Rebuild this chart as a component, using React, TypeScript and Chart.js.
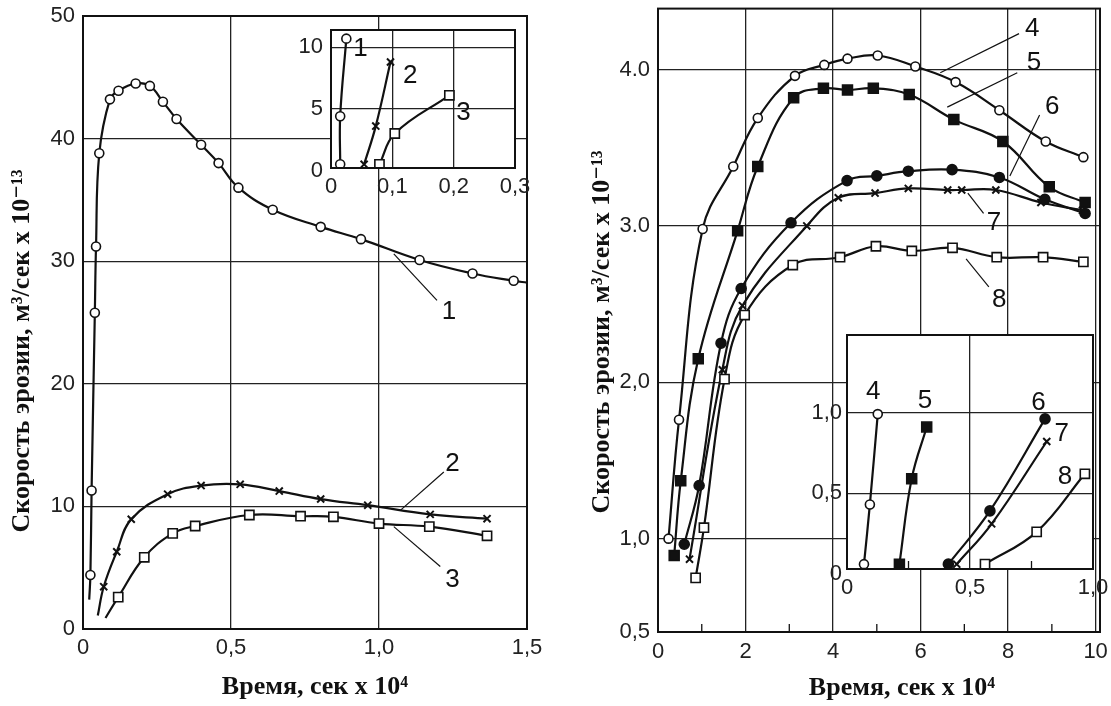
import React, { useEffect, useRef } from 'react';
import { Chart, registerables, LinearScale } from 'chart.js';

Chart.register(...registerables);

// A linear scale whose part below 1.0 is stretched (the reference's broken axis)
class BrokenLinearScale extends LinearScale {
  static id = 'brokenLinear';
  static defaults = {};
  _tf(v: number) { const k = (this.options as any).stretchBelow || 1; return v >= 1 ? v : 1 - (1 - v) * k; }
  _itf(t: number) { const k = (this.options as any).stretchBelow || 1; return t >= 1 ? t : 1 - (1 - t) / k; }
  getPixelForValue(value: number) {
    if (value === null || value === undefined || Number.isNaN(value)) return NaN;
    const a = this._tf(this.min), b = this._tf(this.max);
    return this.getPixelForDecimal((this._tf(value) - a) / (b - a));
  }
  getValueForPixel(pixel: number) {
    const a = this._tf(this.min), b = this._tf(this.max);
    return this._itf(a + this.getDecimalForPixel(pixel) * (b - a));
  }
}
Chart.register(BrokenLinearScale as any);

// ---------------- DATA ----------------
// Left panel (curves 1-3), time x 10^4 s, erosion rate x 10^-13
const s1X = [0.025, 0.029, 0.040, 0.044, 0.055, 0.091, 0.120, 0.178, 0.226, 0.270, 0.316, 0.399, 0.458, 0.525, 0.641, 0.803, 0.939, 1.137, 1.316, 1.455];
const s1Y = [4.4, 11.3, 25.8, 31.2, 38.8, 43.2, 43.9, 44.5, 44.3, 43.0, 41.6, 39.5, 38.0, 36.0, 34.2, 32.8, 31.8, 30.1, 29.0, 28.4];
const s1StartX = [0.021]; const s1StartY = [2.4];
const s1EndX = [1.5]; const s1EndY = [28.25];

const s2X = [0.070, 0.114, 0.163, 0.286, 0.399, 0.531, 0.663, 0.803, 0.962, 1.173, 1.365];
const s2Y = [3.45, 6.3, 8.95, 11.0, 11.7, 11.8, 11.25, 10.6, 10.1, 9.35, 9.0];
const s2StartX = [0.05]; const s2StartY = [1.1];

const s3X = [0.119, 0.207, 0.303, 0.379, 0.562, 0.735, 0.846, 1.0, 1.17, 1.365];
const s3Y = [2.6, 5.85, 7.8, 8.4, 9.3, 9.2, 9.15, 8.6, 8.35, 7.6];
const s3StartX = [0.076]; const s3StartY = [0.9];

// Left inset
const i1X = [0.015, 0.015, 0.025]; const i1Y = [0.5, 4.4, 10.7];
const i2X = [0.054, 0.073, 0.097]; const i2Y = [0.5, 3.6, 8.8];
const i3X = [0.079, 0.104, 0.193]; const i3Y = [0.5, 3.0, 6.1];

// Right panel (curves 4-8)
const s4X = [0.24, 0.48, 1.02, 1.72, 2.28, 3.13, 3.80, 4.33, 5.02, 5.88, 6.80, 7.80, 8.86, 9.72];
const s4Y = [1.0, 1.76, 2.98, 3.38, 3.69, 3.96, 4.03, 4.07, 4.09, 4.02, 3.92, 3.74, 3.54, 3.44];
const s5X = [0.37, 0.52, 0.92, 1.82, 2.28, 3.10, 3.78, 4.33, 4.92, 5.74, 6.76, 7.88, 8.94, 9.76];
const s5Y = [0.91, 1.37, 2.15, 2.97, 3.38, 3.82, 3.88, 3.87, 3.88, 3.84, 3.68, 3.54, 3.25, 3.15];
const s6X = [0.60, 0.94, 1.44, 1.90, 3.04, 4.32, 5.00, 5.72, 6.72, 7.80, 8.84, 9.76];
const s6Y = [0.97, 1.34, 2.25, 2.60, 3.02, 3.29, 3.32, 3.35, 3.36, 3.31, 3.17, 3.08];
const s7X = [0.72, 1.47, 1.93, 3.40, 4.12, 4.96, 5.72, 6.62, 6.94, 7.72, 8.75, 9.70];
const s7Y = [0.89, 2.08, 2.49, 3.00, 3.18, 3.21, 3.24, 3.23, 3.23, 3.23, 3.15, 3.10];
const s8X = [0.86, 1.05, 1.52, 1.98, 3.08, 4.16, 4.98, 5.80, 6.73, 7.74, 8.80, 9.72];
const s8Y = [0.79, 1.07, 2.02, 2.43, 2.75, 2.80, 2.87, 2.84, 2.86, 2.80, 2.80, 2.77];

// Right inset
const i4X = [0.069, 0.093, 0.125]; const i4Y = [0.06, 0.43, 0.99];
const i5X = [0.213, 0.263, 0.324]; const i5Y = [0.06, 0.59, 0.91];
const i6X = [0.412, 0.581, 0.805]; const i6Y = [0.06, 0.39, 0.96];
const i7X = [0.446, 0.588, 0.812]; const i7Y = [0.06, 0.31, 0.82];
const i8X = [0.561, 0.771, 0.967]; const i8Y = [0.06, 0.26, 0.62];

// Ticks
const lxTicks = [0, 0.5, 1.0, 1.5]; const lxLabels = ['0', '0,5', '1,0', '1,5'];
const lyTicks = [0, 10, 20, 30, 40, 50]; const lyLabels = ['0', '10', '20', '30', '40', '50'];
const lixTicks = [0, 0.1, 0.2, 0.3]; const lixLabels = ['0', '0,1', '0,2', '0,3'];
const liyTicks = [0, 5, 10]; const liyLabels = ['0', '5', '10'];
const rxTicks = [0, 2, 4, 6, 8, 10]; const rxLabels = ['0', '2', '4', '6', '8', '10'];
const rxMinor = [1, 3, 5, 7, 9];
const ryTicks = [0.5, 1.0, 2.0, 3.0, 4.0]; const ryLabels = ['0,5', '1,0', '2,0', '3.0', '4.0'];
const rixTicks = [0, 0.5, 1.0]; const rixLabels = ['0', '0,5', '1,0'];
const rixMinor = [0.25, 0.75];
const riyTicks = [0, 0.5, 1.0]; const riyLabels = ['0', '0,5', '1,0'];

// Curve number labels and their leader lines (data coordinates)
const lLabText = ['1', '2', '3']; const lLabX = [1.236, 1.248, 1.248]; const lLabY = [25.9, 13.5, 4.0];
const lLeadX1 = [1.05, 1.073, 1.05]; const lLeadY1 = [30.6, 9.7, 8.35];
const lLeadX2 = [1.196, 1.219, 1.207]; const lLeadY2 = [26.8, 12.8, 5.1];
const liLabText = ['1', '2', '3']; const liLabX = [0.048, 0.129, 0.216]; const liLabY = [9.9, 7.7, 4.65];
const rLabText = ['4', '5', '6', '7', '8']; const rLabX = [8.55, 8.59, 9.01, 7.68, 7.80]; const rLabY = [4.26, 4.04, 3.76, 3.02, 2.53];
const rLeadX1 = [6.45, 6.61, 8.04, 7.08, 7.04]; const rLeadY1 = [3.98, 3.76, 3.32, 3.21, 2.79];
const rLeadX2 = [8.25, 8.21, 8.72, 7.44, 7.56]; const rLeadY2 = [4.23, 3.98, 3.71, 3.08, 2.61];
const riLabText = ['4', '5', '6', '7', '8']; const riLabX = [0.107, 0.317, 0.778, 0.873, 0.886]; const riLabY = [1.13, 1.07, 1.06, 0.87, 0.60];

const xTitle = 'Время, сек x 10⁴';
const yTitle = 'Скорость эрозии, м³/сек x 10⁻¹³';

// ---------------- HELPERS ----------------
const INK = '#111';
const TICK_FONT = { family: '"Liberation Sans", Arial, sans-serif', size: 22 };
const LABEL_FONT = '26px "Liberation Sans", Arial, sans-serif';
const TITLE_FONT = 'bold 26px "Liberation Serif", "DejaVu Serif", serif';

const pts = (xs: number[], ys: number[]) => xs.map((x, i) => ({ x, y: ys[i] }));

const curve = (data: any[]) => ({
  data, showLine: true, borderColor: INK, borderWidth: 2.2, pointRadius: 0,
  tension: 0.4, fill: false, order: 2,
});
const markers = (data: any[], shape: string, r: number, filled: boolean) => ({
  data, showLine: false, pointStyle: shape, pointRadius: r, pointHoverRadius: r,
  pointBackgroundColor: filled ? INK : '#fff', pointBorderColor: INK,
  pointBorderWidth: shape === 'crossRot' ? 2 : 1.6, order: 1,
});

function axis(type: string, min: number, max: number, ticks: number[], labels: string[], grid: number[], size: number, pad: number, extra: any = {}) {
  return {
    type, min, max, ...extra,
    afterBuildTicks: (s: any) => { s.ticks = ticks.map((v) => ({ value: v })); },
    afterFit: (s: any) => {
      if (s.isHorizontal()) s.height = size; else s.width = size;
      s.paddingTop = 0; s.paddingBottom = 0; s.paddingLeft = 0; s.paddingRight = 0;
    },
    ticks: {
      autoSkip: false, maxRotation: 0, minRotation: 0, padding: pad, font: TICK_FONT, color: '#222',
      callback: (_v: any, i: number) => labels[i],
    },
    grid: {
      drawTicks: false, lineWidth: 1.3,
      color: (c: any) => (c.tick && grid.includes(c.tick.value) ? '#222' : 'rgba(0,0,0,0)'),
    },
    border: { display: false },
  };
}

const framePlugin = {
  id: 'frame',
  beforeDraw(chart: any, _a: any, opts: any) {
    if (!opts.fillWhite) return;
    const { ctx, chartArea: { left, top, right, bottom } } = chart;
    ctx.save(); ctx.fillStyle = '#fff'; ctx.fillRect(left, top, right - left, bottom - top); ctx.restore();
  },
  afterDatasetsDraw(chart: any, _a: any, opts: any) {
    const { ctx, chartArea: { left, top, right, bottom }, scales } = chart;
    ctx.save();
    ctx.strokeStyle = INK; ctx.lineWidth = 2;
    ctx.strokeRect(left, top, right - left, bottom - top);
    if (opts.minor) {
      ctx.lineWidth = 1.3;
      opts.minor.forEach((v: number) => {
        const px = scales.x.getPixelForValue(v);
        ctx.beginPath(); ctx.moveTo(px, bottom); ctx.lineTo(px, bottom - 8); ctx.stroke();
      });
    }
    ctx.restore();
  },
};

const labelsPlugin = {
  id: 'curveLabels',
  afterDatasetsDraw(chart: any, _a: any, opts: any) {
    const { ctx, scales: { x, y } } = chart;
    ctx.save();
    ctx.strokeStyle = INK; ctx.lineWidth = 1.2;
    (opts.leaders || []).forEach((l: any) => {
      ctx.beginPath();
      ctx.moveTo(x.getPixelForValue(l.x1), y.getPixelForValue(l.y1));
      ctx.lineTo(x.getPixelForValue(l.x2), y.getPixelForValue(l.y2));
      ctx.stroke();
    });
    ctx.fillStyle = INK; ctx.font = LABEL_FONT; ctx.textAlign = 'center'; ctx.textBaseline = 'middle';
    (opts.items || []).forEach((t: any) => ctx.fillText(t.text, x.getPixelForValue(t.x), y.getPixelForValue(t.y)));
    ctx.restore();
  },
};

const titlesPlugin = {
  id: 'axisTitles',
  afterDraw(chart: any, _a: any, opts: any) {
    if (!opts.x) return;
    const { ctx } = chart;
    ctx.save();
    ctx.fillStyle = INK; ctx.font = TITLE_FONT; ctx.textAlign = 'center'; ctx.textBaseline = 'middle';
    ctx.fillText(opts.x.text, opts.x.cx, opts.x.cy);
    ctx.translate(opts.y.cx, opts.y.cy); ctx.rotate(-Math.PI / 2);
    ctx.fillText(opts.y.text, 0, 0);
    ctx.restore();
  },
};

const items = (t: string[], xs: number[], ys: number[]) => t.map((text, i) => ({ text, x: xs[i], y: ys[i] }));
const leaders = (x1: number[], y1: number[], x2: number[], y2: number[]) => x1.map((_, i) => ({ x1: x1[i], y1: y1[i], x2: x2[i], y2: y2[i] }));

function baseConfig(datasets: any[], scales: any, padding: any, plugins: any) {
  return {
    type: 'line',
    data: { datasets },
    options: {
      responsive: false, animation: false, devicePixelRatio: 1,
      layout: { padding },
      scales,
      plugins: { legend: { display: false }, tooltip: { enabled: false }, ...plugins },
    },
    plugins: [framePlugin, labelsPlugin, titlesPlugin],
  };
}

// ---------------- CONFIGS ----------------
const leftMain = () => baseConfig(
  [
    markers(pts(s1X, s1Y), 'circle', 4.5, false),
    markers(pts(s2X, s2Y), 'crossRot', 5, false),
    markers(pts(s3X, s3Y), 'rect', 6.5, false),
    curve(pts([...s1StartX, ...s1X, ...s1EndX], [...s1StartY, ...s1Y, ...s1EndY])),
    curve(pts([...s2StartX, ...s2X], [...s2StartY, ...s2Y])),
    curve(pts([...s3StartX, ...s3X], [...s3StartY, ...s3Y])),
  ],
  {
    x: axis('linear', 0, 1.5, lxTicks, lxLabels, [0.5, 1.0], 77, 6),
    y: axis('linear', 0, 50, lyTicks, lyLabels, [10, 20, 30, 40], 83, 8),
  },
  { left: 0, top: 16, right: 18, bottom: 0 },
  {
    frame: {},
    curveLabels: { items: items(lLabText, lLabX, lLabY), leaders: leaders(lLeadX1, lLeadY1, lLeadX2, lLeadY2) },
    axisTitles: { x: { text: xTitle, cx: 315, cy: 687 }, y: { text: yTitle, cx: 22, cy: 351 } },
  },
);

const leftInset = () => baseConfig(
  [
    markers(pts(i1X, i1Y), 'circle', 4.5, false),
    markers(pts(i2X, i2Y), 'crossRot', 5, false),
    markers(pts(i3X, i3Y), 'rect', 6.5, false),
    curve(pts(i1X, i1Y)), curve(pts(i2X, i2Y)), curve(pts(i3X, i3Y)),
  ],
  {
    x: axis('linear', 0, 0.3, lixTicks, lixLabels, [0.1, 0.2], 48, 6),
    y: axis('linear', 0.2, 11.4, liyTicks, liyLabels, [5, 10], 51, 8),
  },
  { left: 0, top: 14, right: 25, bottom: 0 },
  { frame: { fillWhite: true }, curveLabels: { items: items(liLabText, liLabX, liLabY) } },
);

const rightMain = () => baseConfig(
  [
    markers(pts(s4X, s4Y), 'circle', 4.5, false),
    markers(pts(s5X, s5Y), 'rect', 7, true),
    markers(pts(s6X, s6Y), 'circle', 5, true),
    markers(pts(s7X, s7Y), 'crossRot', 5, false),
    markers(pts(s8X, s8Y), 'rect', 6.5, false),
    curve(pts(s4X, s4Y)), curve(pts(s5X, s5Y)), curve(pts(s6X, s6Y)),
    curve(pts(s7X, s7Y)), curve(pts(s8X, s8Y)),
  ],
  {
    x: axis('linear', 0, 10.1, rxTicks, rxLabels, [2, 4, 6, 8, 10], 74, 7),
    y: axis('brokenLinear', 0.5, 4.39, ryTicks, ryLabels, [1, 2, 3, 4], 113, 8, { stretchBelow: 1.194 }),
  },
  { left: 0, top: 8, right: 11, bottom: 0 },
  {
    frame: { minor: rxMinor },
    curveLabels: { items: items(rLabText, rLabX, rLabY), leaders: leaders(rLeadX1, rLeadY1, rLeadX2, rLeadY2) },
    axisTitles: { x: { text: xTitle, cx: 357, cy: 688 }, y: { text: yTitle, cx: 57, cy: 332 } },
  },
);

const rightInset = () => baseConfig(
  [
    markers(pts(i4X, i4Y), 'circle', 4.5, false),
    markers(pts(i5X, i5Y), 'rect', 7, true),
    markers(pts(i6X, i6Y), 'circle', 5, true),
    markers(pts(i7X, i7Y), 'crossRot', 5, false),
    markers(pts(i8X, i8Y), 'rect', 6.5, false),
    curve(pts(i4X, i4Y)), curve(pts(i5X, i5Y)), curve(pts(i6X, i6Y)),
    curve(pts(i7X, i7Y)), curve(pts(i8X, i8Y)),
  ],
  {
    x: axis('linear', 0, 1.0, rixTicks, rixLabels, [0.5], 51, 6),
    y: axis('linear', 0.03, 1.48, riyTicks, riyLabels, [0.5, 1.0], 57, 5),
  },
  { left: 0, top: 15, right: 18, bottom: 0 },
  { frame: { fillWhite: true, minor: rixMinor }, curveLabels: { items: items(riLabText, riLabX, riLabY) } },
);

// ---------------- COMPONENTS ----------------
function ChartBox({ make, left, top, width, height }: any) {
  const ref = useRef<HTMLCanvasElement | null>(null);
  useEffect(() => {
    const chart = new Chart(ref.current as HTMLCanvasElement, make() as any);
    return () => chart.destroy();
  }, []);
  return (
    <canvas
      ref={ref}
      width={width}
      height={height}
      style={{ position: 'absolute', left, top, width, height }}
    />
  );
}

export default function App() {
  return (
    <div style={{ position: 'fixed', left: 0, top: 0, width: 1111, height: 706, background: '#fff', overflow: 'hidden' }}>
      <ChartBox make={leftMain} left={0} top={0} width={545} height={706} />
      <ChartBox make={rightMain} left={545} top={0} width={566} height={706} />
      <ChartBox make={leftInset} left={280} top={16} width={260} height={200} />
      <ChartBox make={rightInset} left={790} top={320} width={321} height={300} />
    </div>
  );
}
